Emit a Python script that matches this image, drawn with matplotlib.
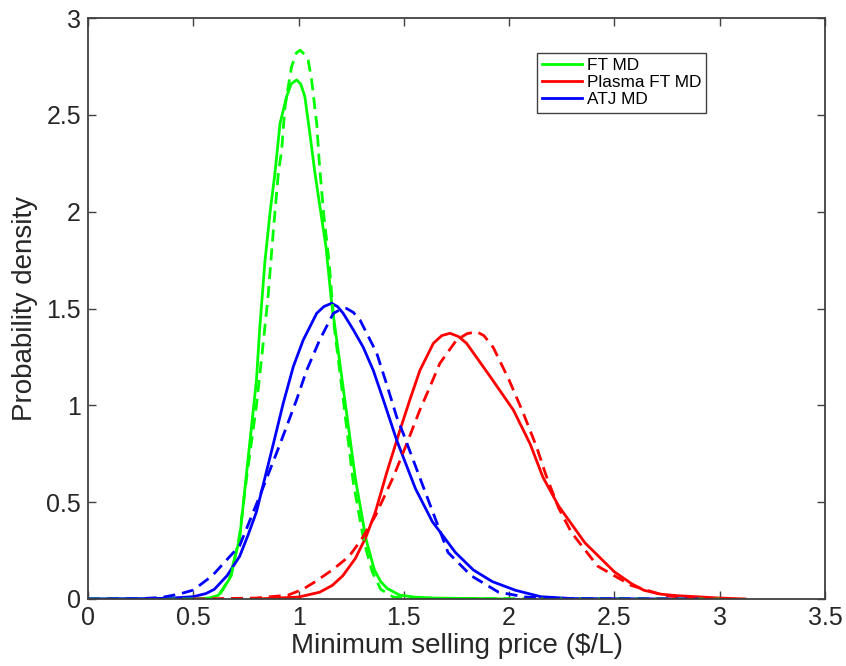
import matplotlib
matplotlib.use('Agg')
import matplotlib.pyplot as plt

plt.rcParams['font.family'] = ['Liberation Sans', 'DejaVu Sans']

# FT MD (green)
ft_x = [0.0, 0.5, 0.58, 0.62, 0.67, 0.72, 0.75, 0.80, 0.815, 0.84, 0.865, 0.888, 0.912, 0.943,
        0.965, 0.991, 1.01, 1.03, 1.054, 1.078, 1.105, 1.13, 1.157, 1.207, 1.27, 1.32, 1.36,
        1.39, 1.42, 1.48, 1.55, 1.64, 2.0]
ft_y = [0.0, 0.0, 0.005, 0.02, 0.1, 0.31, 0.62, 1.13, 1.39, 1.74, 2.0, 2.2, 2.456, 2.593,
        2.66, 2.68, 2.66, 2.593, 2.40, 2.198, 2.0, 1.82, 1.53, 1.13, 0.62, 0.31, 0.15,
        0.09, 0.055, 0.02, 0.01, 0.005, 0.0]
ft_fit_x = [0.0, 0.5, 0.58, 0.63, 0.68, 0.72, 0.75, 0.80, 0.83, 0.855, 0.88, 0.904, 0.92, 0.935,
            0.967, 0.99, 1.007, 1.03, 1.046, 1.062, 1.086, 1.10, 1.12, 1.145, 1.17, 1.21, 1.26,
            1.31, 1.35, 1.39, 1.45, 1.6, 3.0]
ft_fit_y = [0.0, 0.0, 0.005, 0.03, 0.12, 0.33, 0.6, 1.0, 1.3, 1.56, 1.9, 2.2, 2.32, 2.54,
            2.75, 2.82, 2.834, 2.81, 2.78, 2.68, 2.456, 2.23, 1.98, 1.74, 1.4, 1.05, 0.6,
            0.3, 0.14, 0.05, 0.01, 0.002, 0.0]

# Plasma FT MD (red)
pl_x = [0.8, 1.0, 1.1, 1.16, 1.21, 1.27, 1.32, 1.365, 1.418, 1.481, 1.529, 1.576, 1.64, 1.68,
        1.719, 1.76, 1.798, 1.909, 2.02, 2.1, 2.16, 2.235, 2.36, 2.5, 2.58, 2.64, 2.72, 2.8,
        3.0, 3.12]
pl_y = [0.0, 0.01, 0.035, 0.07, 0.12, 0.21, 0.32, 0.45, 0.65, 0.87, 1.03, 1.18, 1.32, 1.36,
        1.372, 1.355, 1.32, 1.15, 0.976, 0.80, 0.63, 0.48, 0.29, 0.14, 0.08, 0.045, 0.025, 0.017,
        0.005, 0.0]
pl_fit_x = [0.5, 0.8, 0.95, 1.02, 1.08, 1.16, 1.24, 1.3, 1.365, 1.45, 1.513, 1.576, 1.624, 1.671,
            1.75, 1.80, 1.846, 1.88, 1.924, 2.0, 2.067, 2.13, 2.178, 2.235, 2.295, 2.42, 2.58,
            2.74, 2.9, 3.0]
pl_fit_y = [0.0, 0.005, 0.02, 0.05, 0.09, 0.15, 0.22, 0.31, 0.43, 0.63, 0.80, 0.976, 1.096, 1.217,
            1.337, 1.37, 1.38, 1.36, 1.30, 1.13, 0.96, 0.786, 0.63, 0.47, 0.345, 0.17, 0.07,
            0.017, 0.003, 0.0]

# ATJ MD (blue)
atj_x = [0.0, 0.3, 0.4, 0.5, 0.56, 0.6, 0.66, 0.72, 0.76, 0.80, 0.88, 0.927, 0.975, 1.022,
         1.086, 1.12, 1.157, 1.185, 1.212, 1.26, 1.307, 1.355, 1.402, 1.466, 1.555, 1.635,
         1.745, 1.83, 1.92, 2.03, 2.15, 2.3, 2.8]
atj_y = [0.0, 0.002, 0.005, 0.012, 0.028, 0.05, 0.12, 0.22, 0.33, 0.45, 0.80, 1.01, 1.2, 1.337,
         1.475, 1.51, 1.527, 1.51, 1.475, 1.39, 1.30, 1.18, 1.03, 0.82, 0.57, 0.40,
         0.24, 0.15, 0.09, 0.045, 0.012, 0.002, 0.0]
atj_fit_x = [0.0, 0.25, 0.35, 0.435, 0.5, 0.59, 0.72, 0.815, 0.912, 0.991, 1.038, 1.10, 1.165,
             1.2, 1.228, 1.26, 1.292, 1.371, 1.418, 1.466, 1.497, 1.585, 1.71, 1.82, 1.95,
             2.08, 2.3, 2.9]
atj_fit_y = [0.0, 0.002, 0.008, 0.026, 0.046, 0.12, 0.275, 0.53, 0.80, 1.03, 1.18, 1.337, 1.475,
             1.495, 1.50, 1.48, 1.44, 1.27, 1.11, 0.94, 0.855, 0.60, 0.24, 0.12, 0.035,
             0.01, 0.002, 0.0]

fig = plt.figure(figsize=(8.46, 6.66), dpi=100)
ax = fig.add_axes([88/846, 67/666, 737/846, 581/666])

dash = (4.3, 2.5)
ax.plot(ft_x, ft_y, color=(0, 1, 0), lw=2, label='FT MD')
ax.plot(pl_x, pl_y, color=(1, 0, 0), lw=2, label='Plasma FT MD')
ax.plot(atj_x, atj_y, color=(0, 0, 1), lw=2, label='ATJ MD')
ax.plot(ft_fit_x, ft_fit_y, color=(0, 1, 0), lw=2, dashes=dash)
ax.plot(pl_fit_x, pl_fit_y, color=(1, 0, 0), lw=2, dashes=dash)
ax.plot(atj_fit_x, atj_fit_y, color=(0, 0, 1), lw=2, dashes=dash)

ax.set_xlim(0, 3.5)
ax.set_ylim(0, 3)
ax.set_xticks([0, 0.5, 1, 1.5, 2, 2.5, 3, 3.5])
ax.set_xticklabels(['0', '0.5', '1', '1.5', '2', '2.5', '3', '3.5'])
ax.set_yticks([0, 0.5, 1, 1.5, 2, 2.5, 3])
ax.set_yticklabels(['0', '0.5', '1', '1.5', '2', '2.5', '3'])
ax.tick_params(direction='in', top=True, right=True, length=6, width=1,
               color='#404040', labelsize=18, labelcolor='#262626', pad=5)
for s in ax.spines.values():
    s.set_color('#404040')
    s.set_linewidth(1.3)

ax.set_xlabel('Minimum selling price ($/L)', fontsize=20, color='#262626', labelpad=2)
ax.set_ylabel('Probability density', fontsize=20, color='#262626', labelpad=6)

leg = ax.legend(loc='upper left', bbox_to_anchor=(537/846, 1 - 53/666),
                bbox_transform=fig.transFigure, borderaxespad=0, fontsize=12.4,
                handlelength=2.3, handletextpad=0.3, labelspacing=0.12,
                borderpad=0.3, fancybox=False, framealpha=1)
leg.get_frame().set_edgecolor('#404040')
leg.get_frame().set_linewidth(1)

fig.savefig('out.png', dpi=100)
